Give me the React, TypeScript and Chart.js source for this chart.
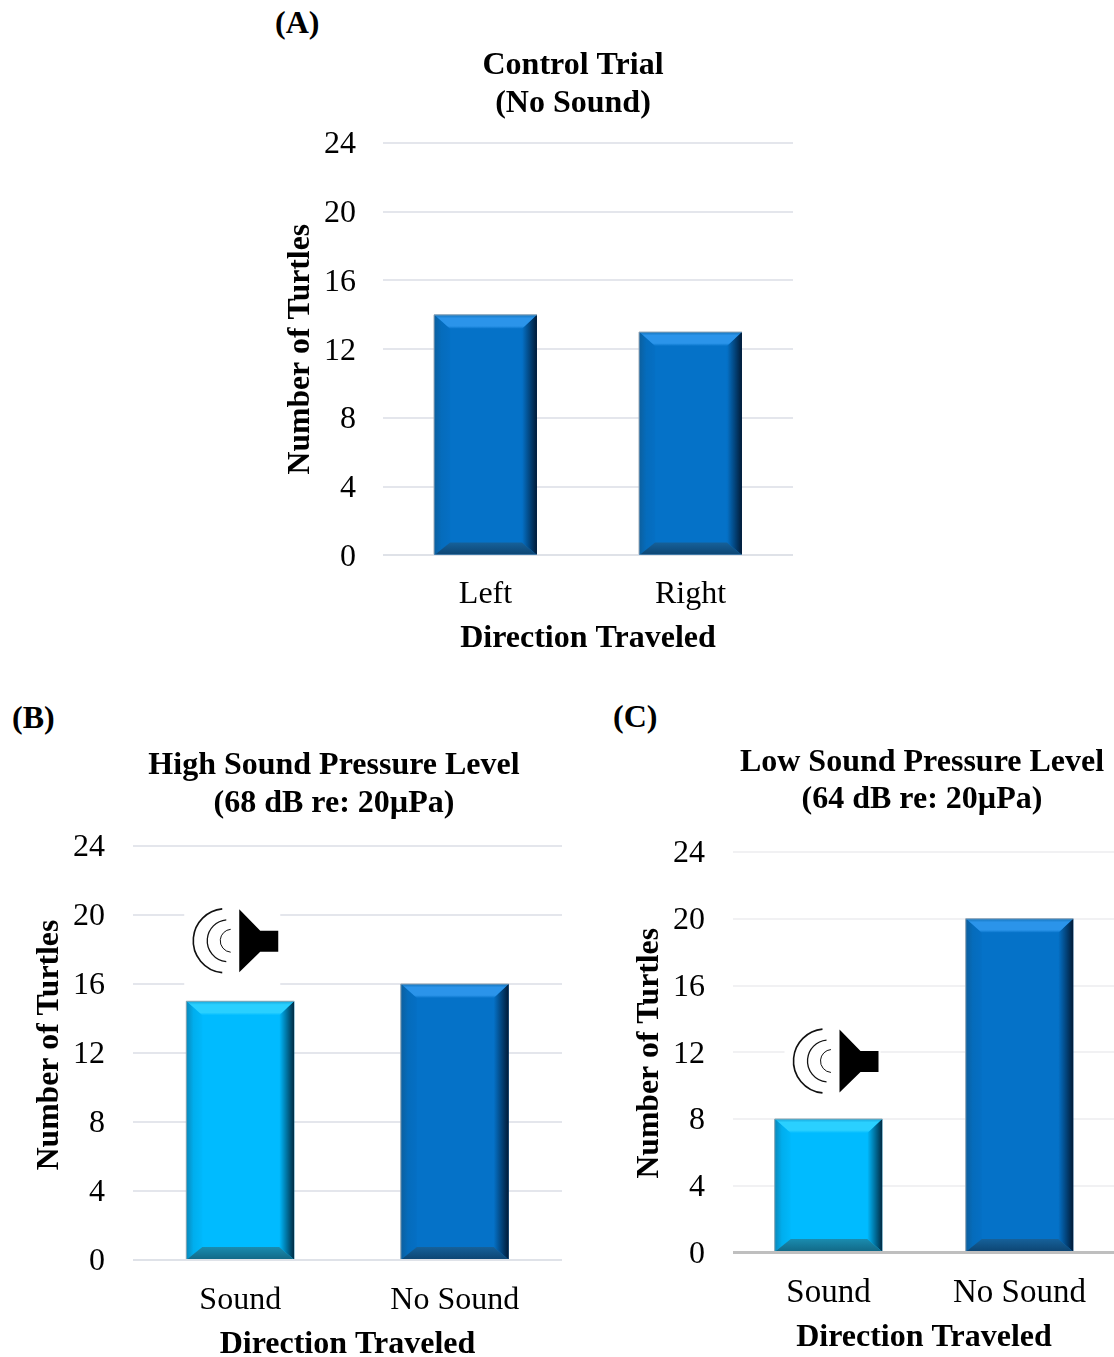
import React, { useEffect, useRef } from "react";
import { Chart, registerables } from "chart.js";

Chart.register(...registerables);

const FONT = '"Liberation Serif"';
const DARK = "#0572c8";
const LIGHT = "#00bbff";

const yTicks = [0, 4, 8, 12, 16, 20, 24];

const categoriesA = ["Left", "Right"];
const valuesA = [14, 13];
const coloursA = [DARK, DARK];
const titleA = ["Control Trial", "(No Sound)"];

const categoriesB = ["Sound", "No Sound"];
const valuesB = [15, 16];
const coloursB = [LIGHT, DARK];
const titleB = ["High Sound Pressure Level", "(68 dB re: 20µPa)"];

const categoriesC = ["Sound", "No Sound"];
const valuesC = [8, 20];
const coloursC = [LIGHT, DARK];
const titleC = ["Low Sound Pressure Level", "(64 dB re: 20µPa)"];

const yAxisTitle = "Number of Turtles";
const xAxisTitle = "Direction Traveled";

function shades(isLight: boolean) {
  return isLight
    ? { top: "#2ad0ff", topEdge: "#18a8dc", left: "#0b88ba", leftMid: "#00aeee", leftIn: "#00b8fb", right: "#002a42", bottomIn: "#1a8cb0", bottom: "#126a88", edge: "#8fa6b0" }
    : { top: "#2b94ea", topEdge: "#1474bc", left: "#0c5f9e", leftMid: "#056cbc", leftIn: "#056fc4", right: "#011a36", bottomIn: "#16619a", bottom: "#0d4674", edge: "#9aa8b4" };
}

const bevelPlugin = {
  id: "bevel",
  afterDatasetsDraw(chart: any) {
    const ctx = chart.ctx as CanvasRenderingContext2D;
    chart.getDatasetMeta(0).data.forEach((el: any, i: number) => {
      const colour = chart.data.datasets[0].backgroundColor[i];
      const s = shades(colour === LIGHT);
      const l = el.x - el.width / 2;
      const r = el.x + el.width / 2;
      const t = el.y;
      const b = el.base;
      const bt = 14, bb = 12, bl = 16, br = 15, out = 4;
      const poly = (pts: number[][], fill: any) => {
        ctx.beginPath();
        pts.forEach((p, k) => (k ? ctx.lineTo(p[0], p[1]) : ctx.moveTo(p[0], p[1])));
        ctx.closePath();
        ctx.fillStyle = fill;
        ctx.fill();
      };
      ctx.save();
      ctx.beginPath();
      ctx.rect(l, t, r - l, b - t);
      ctx.clip();
      ctx.filter = "blur(0.7px)";
      const gl = ctx.createLinearGradient(l, 0, l + bl, 0);
      gl.addColorStop(0, s.left);
      gl.addColorStop(0.45, s.leftMid);
      gl.addColorStop(1, s.leftIn);
      poly([[l - out, t - out], [l + bl, t + bt], [l + bl, b - bb], [l - out, b + out]], gl);
      const gr = ctx.createLinearGradient(r - br, 0, r, 0);
      gr.addColorStop(0, colour);
      gr.addColorStop(1, s.right);
      poly([[r + out, t - out], [r - br, t + bt], [r - br, b - bb], [r + out, b + out]], gr);
      const gb = ctx.createLinearGradient(0, b - bb, 0, b);
      gb.addColorStop(0, s.bottomIn);
      gb.addColorStop(1, s.bottom);
      poly([[l - out, b + out], [l + bl, b - bb], [r - br, b - bb], [r + out, b + out]], gb);
      const gt = ctx.createLinearGradient(0, t, 0, t + bt);
      gt.addColorStop(0, s.topEdge);
      gt.addColorStop(0.25, s.top);
      gt.addColorStop(0.8, s.top);
      gt.addColorStop(1, colour);
      poly([[l - out, t - out], [l + bl, t + bt], [r - br, t + bt], [r + out, t - out]], gt);
      ctx.restore();
      ctx.save();
      ctx.strokeStyle = s.edge;
      ctx.lineWidth = 1;
      ctx.beginPath();
      ctx.moveTo(l, b);
      ctx.lineTo(l, t);
      ctx.lineTo(r, t);
      ctx.stroke();
      ctx.restore();
    });
  },
};

function placementPlugin(titleCentre: number, yTitleShift: number) {
  return {
    id: "placement",
    afterLayout(chart: any) {
      const block = chart.titleBlock;
      const shift = titleCentre - (block.left + block.right) / 2;
      block.left += shift;
      block.right += shift;
      const yScale = chart.scales.y;
      if (!yScale.__shifted) {
        yScale.__shifted = true;
        const draw = yScale.drawTitle;
        yScale.drawTitle = function () {
          chart.ctx.save();
          chart.ctx.translate(0, yTitleShift);
          draw.call(yScale);
          chart.ctx.restore();
        };
      }
    },
  };
}

function speakerPlugin(dx: number, dy: number) {
  const centre = (chart: any) => {
    const el = chart.getDatasetMeta(0).data[0];
    return { x: el.x + dx, y: el.y + dy };
  };
  return {
    id: "speaker",
    beforeDatasetsDraw(chart: any) {
      const { x, y } = centre(chart);
      chart.ctx.save();
      chart.ctx.fillStyle = "#ffffff";
      chart.ctx.fillRect(x - 55, y - 45, 96, 95);
      chart.ctx.restore();
    },
    afterDatasetsDraw(chart: any) {
      const { x, y } = centre(chart);
      const ctx = chart.ctx as CanvasRenderingContext2D;
      ctx.save();
      ctx.fillStyle = "#000";
      ctx.beginPath();
      ctx.moveTo(x, y - 31.5);
      ctx.lineTo(x + 21, y - 10);
      ctx.lineTo(x + 39, y - 10);
      ctx.lineTo(x + 39, y + 11);
      ctx.lineTo(x + 21, y + 11);
      ctx.lineTo(x, y + 31.5);
      ctx.closePath();
      ctx.fill();
      ctx.strokeStyle = "#111";
      const arc = (cx: number, rad: number, lw: number) => {
        ctx.lineWidth = lw;
        ctx.beginPath();
        ctx.arc(x + cx, y, rad, Math.PI * 0.53, Math.PI * 1.47);
        ctx.stroke();
      };
      arc(-14, 32, 1.6);
      arc(-11, 21, 1.3);
      arc(-7.5, 11.5, 1);
      ctx.restore();
    },
  };
}

type PanelProps = {
  left: number; top: number; width: number; height: number;
  categories: string[]; values: number[]; colours: string[]; title: string[];
  barFraction: number; yWidth: number; xHeight: number; titleCentre: number; yTitleShift: number;
  titlePadTop: number; titlePadBottom: number; yTitlePad: number; tickPadX: number; tickPadY: number;
  tickSizeX: number; gridColour: string; zeroColour: string; zeroWidth: number; speaker?: [number, number];
};

function Panel(p: PanelProps) {
  const ref = useRef<HTMLCanvasElement>(null);
  useEffect(() => {
    const chart = new Chart(ref.current as HTMLCanvasElement, {
      type: "bar",
      data: {
        labels: p.categories,
        datasets: [{
          data: p.values,
          backgroundColor: p.colours,
          categoryPercentage: 1,
          barPercentage: p.barFraction,
        }],
      },
      plugins: [
        placementPlugin(p.titleCentre - p.left, p.yTitleShift),
        bevelPlugin,
        ...(p.speaker ? [speakerPlugin(p.speaker[0], p.speaker[1])] : []),
      ],
      options: {
        animation: false,
        responsive: false,
        layout: { padding: 0 },
        plugins: {
          legend: { display: false },
          tooltip: { enabled: false },
          title: {
            display: true,
            text: p.title,
            color: "#000",
            font: { family: FONT, size: 32, weight: "bold", lineHeight: 1.18 },
            padding: { top: p.titlePadTop, bottom: p.titlePadBottom },
          },
        },
        scales: {
          x: {
            grid: { display: false },
            border: { display: false },
            ticks: { color: "#000", font: { family: FONT, size: p.tickSizeX }, padding: p.tickPadX, maxRotation: 0 },
            title: {
              display: true, text: xAxisTitle, color: "#000",
              font: { family: FONT, size: 32, weight: "bold", lineHeight: 1 },
              padding: 0,
            },
            afterFit: (s: any) => { s.height = p.xHeight; },
          },
          y: {
            min: 0,
            max: 24,
            afterBuildTicks: (s: any) => { s.ticks = yTicks.map((value) => ({ value })); },
            grid: {
              drawTicks: false,
              color: (c: any) => (c.tick.value === 0 ? p.zeroColour : p.gridColour),
              lineWidth: (c: any) => (c.tick.value === 0 ? p.zeroWidth : 2),
            },
            border: { display: false },
            ticks: { color: "#000", font: { family: FONT, size: 32 }, padding: p.tickPadY, labelOffset: 2 },
            title: {
              display: true, text: yAxisTitle, color: "#000",
              font: { family: FONT, size: 31.7, weight: "bold", lineHeight: 1 },
              padding: { top: p.yTitlePad, bottom: 0 },
            },
            afterFit: (s: any) => { s.width = p.yWidth; },
          },
        },
      },
    } as any);
    return () => chart.destroy();
  }, []);
  return (
    <canvas
      ref={ref}
      width={p.width}
      height={p.height}
      style={{ position: "absolute", left: p.left, top: p.top, width: p.width, height: p.height }}
    />
  );
}

const panelLabel = (text: string, left: number, top: number) => (
  <div style={{ position: "absolute", left, top, font: `bold 32px/36px ${FONT}`, color: "#000" }}>{text}</div>
);

export default function App() {
  return (
    <div style={{ position: "absolute", left: 0, top: 0, width: 1114, height: 1357, overflow: "hidden", background: "#fff" }}>
      <Panel left={270} top={44} width={523} height={611} categories={categoriesA} values={valuesA} colours={coloursA}
        title={titleA} barFraction={0.502} yWidth={113} xHeight={99.6} titleCentre={573} yTitleShift={0}
        titlePadTop={3} titlePadBottom={20.5} yTitlePad={15} tickPadX={12} tickPadY={27} tickSizeX={32}
        gridColour="#e4e6ec" zeroColour="#dfe2e8" zeroWidth={2} />
      <Panel left={0} top={744} width={562} height={617} categories={categoriesB} values={valuesB} colours={coloursB}
        title={titleB} barFraction={0.503} yWidth={133} xHeight={101} titleCentre={334} yTitleShift={-8}
        titlePadTop={3} titlePadBottom={23.5} yTitlePad={34} tickPadX={13} tickPadY={28} tickSizeX={32}
        gridColour="#e4e6ec" zeroColour="#dfe2e8" zeroWidth={2} speaker={[-1, -60.5]} />
      <Panel left={620} top={742} width={495} height={612} categories={categoriesC} values={valuesC} colours={coloursC}
        title={titleC} barFraction={0.563} yWidth={113} xHeight={101.5} titleCentre={922} yTitleShift={1}
        titlePadTop={1.5} titlePadBottom={33} yTitlePad={14} tickPadX={13} tickPadY={28} tickSizeX={33}
        gridColour="#f1f1f3" zeroColour="#bfbfbf" zeroWidth={3} speaker={[11, -58]} />
      {panelLabel("(A)", 275, 4)}
      {panelLabel("(B)", 12, 699)}
      {panelLabel("(C)", 613, 698)}
    </div>
  );
}
